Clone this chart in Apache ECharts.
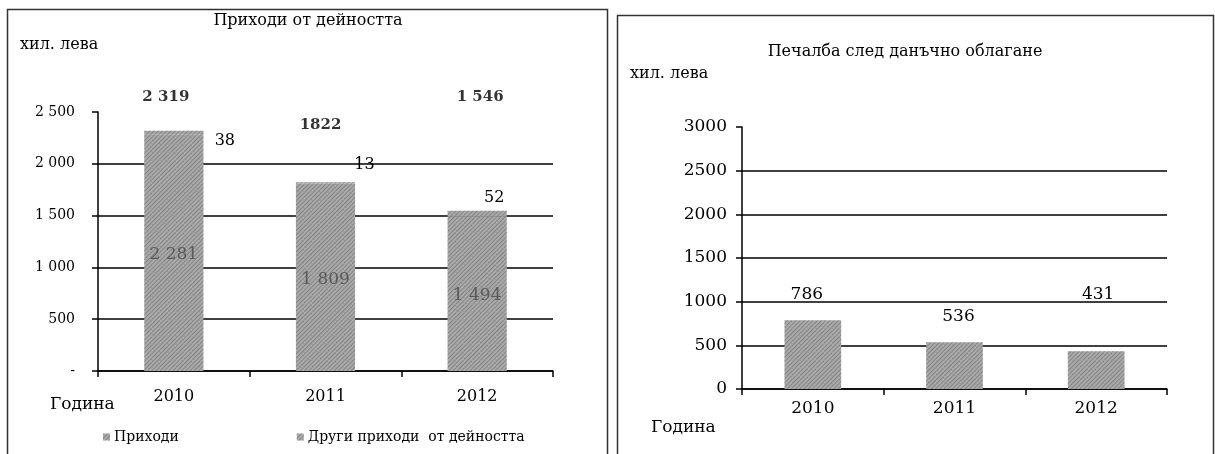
<!DOCTYPE html>
<html><head><meta charset="utf-8">
<script src="https://cdn.jsdelivr.net/npm/echarts@6/dist/echarts.min.js"></script>
<style>html,body{margin:0;padding:0;background:#fff}#c{width:1215px;height:454px}</style>
</head><body><div id="c"></div>
<script>
// ---- data ----
const years = ['2010', '2011', '2012'];
const revenue = [2281, 1809, 1494];
const otherRevenue = [38, 13, 52];
const totalRevenue = [2319, 1822, 1546];
const totalRevenueText = ['2 319', '1822', '1 546'];
const profit = [786, 536, 431];
const leftTickLabels = ['-', '500', '1 000', '1 500', '2 000', '2 500'];
const rightTickLabels = ['0', '500', '1000', '1500', '2000', '2500', '3000'];
const seriesNames = ['Приходи', 'Други приходи  от дейността'];

// ---- styling helpers ----
const SERIF = '"DejaVu Serif","Liberation Serif",serif';
const barColor = '#a9a9a9';
const decal = {
  symbol: 'rect', symbolSize: 1, color: 'rgba(90,90,90,0.45)',
  dashArrayX: [1, 0], dashArrayY: [1, 2], rotation: -Math.PI / 4
};
const fmtThousands = v => String(v).replace(/\B(?=(\d{3})+(?!\d))/g, ' ');

// label offsets (style, not data)
const otherLabelOffsets = [[51, 8], [39, -18], [17, -16]];
const totalLabelOffsets = [[-8, -34], [-5, -57], [3, -114]];
const profitLabelOffsets = [[-6, -12], [4, -12], [2, -43]];

const chart = echarts.init(document.getElementById('c'), null, { renderer: 'canvas' });

const option = {
  animation: false,
  backgroundColor: '#fff',
  textStyle: { fontFamily: SERIF },
  grid: [
    { left: 98, right: 1215 - 553, top: 112, bottom: 454 - 371 },
    { left: 742, right: 1215 - 1167, top: 127, bottom: 454 - 389 }
  ],
  legend: {
    data: seriesNames,
    left: 103, top: 430, padding: 0,
    itemWidth: 7, itemHeight: 7, itemGap: 118, icon: 'rect',
    textStyle: { fontFamily: SERIF, fontSize: 14, color: '#000', padding: [0, 0, 0, -1] }
  },
  xAxis: [
    {
      type: 'category', gridIndex: 0, data: years,
      axisLine: { lineStyle: { color: '#000', width: 1.5 } },
      axisTick: { show: true, alignWithLabel: false, length: 6, lineStyle: { color: '#000', width: 1.5 } },
      axisLabel: { color: '#000', fontSize: 16, fontFamily: SERIF, margin: 18 }
    },
    {
      type: 'category', gridIndex: 1, data: years,
      axisLine: { lineStyle: { color: '#000', width: 1.5 } },
      axisTick: { show: true, alignWithLabel: false, length: 6, lineStyle: { color: '#000', width: 1.5 } },
      axisLabel: { color: '#000', fontSize: 17, fontFamily: SERIF, margin: 11 }
    }
  ],
  yAxis: [
    {
      type: 'value', gridIndex: 0, min: 0, max: 2500, interval: 500,
      axisLine: { show: true, lineStyle: { color: '#000', width: 1.5 } },
      axisTick: { show: true, length: 6, lineStyle: { color: '#000', width: 1.5 } },
      splitLine: { show: true, showMaxLine: false, lineStyle: { color: '#000', width: 1.5 } },
      axisLabel: { color: '#000', fontSize: 14, fontFamily: SERIF, margin: 23,
        formatter: v => leftTickLabels[Math.round(v / 500)] }
    },
    {
      type: 'value', gridIndex: 1, min: 0, max: 3000, interval: 500,
      axisLine: { show: true, lineStyle: { color: '#000', width: 1.5 } },
      axisTick: { show: true, length: 6, lineStyle: { color: '#000', width: 1.5 } },
      splitLine: { show: true, showMaxLine: false, lineStyle: { color: '#000', width: 1.5 } },
      axisLabel: { color: '#000', fontSize: 17, fontFamily: SERIF, margin: 15,
        formatter: v => rightTickLabels[Math.round(v / 500)] }
    }
  ],
  series: [
    {
      name: seriesNames[0], type: 'bar', stack: 'rev', xAxisIndex: 0, yAxisIndex: 0,
      barWidth: '39%',
      itemStyle: { color: barColor, decal: decal },
      label: { show: true, position: 'inside', offset: [0, 2], fontSize: 17, fontFamily: SERIF,
        color: '#5a5a5a', formatter: p => fmtThousands(p.value) },
      data: revenue
    },
    {
      name: seriesNames[1], type: 'bar', stack: 'rev', xAxisIndex: 0, yAxisIndex: 0,
      barWidth: '39%',
      itemStyle: { color: barColor, decal: decal },
      data: otherRevenue.map((v, i) => ({
        value: v,
        label: { show: true, position: 'inside', offset: otherLabelOffsets[i], fontSize: 16,
          fontFamily: SERIF, color: '#000' }
      }))
    },
    {
      name: 'total', type: 'scatter', xAxisIndex: 0, yAxisIndex: 0,
      symbolSize: 0, silent: true,
      data: totalRevenue.map((v, i) => ({
        value: v,
        label: { show: true, position: 'inside', offset: totalLabelOffsets[i],
          formatter: totalRevenueText[i], fontSize: 15, fontWeight: 'bold',
          fontFamily: SERIF, color: '#000' }
      }))
    },
    {
      name: 'profit', type: 'bar', xAxisIndex: 1, yAxisIndex: 1,
      barWidth: '40%',
      itemStyle: { color: barColor, decal: decal },
      data: profit.map((v, i) => ({
        value: v,
        label: { show: true, position: 'top', offset: profitLabelOffsets[i], fontSize: 17,
          fontFamily: SERIF, color: '#000' }
      }))
    }
  ],
  graphic: [
    { type: 'rect', shape: { x: 7.5, y: 9.5, width: 600, height: 470 },
      style: { fill: 'none', stroke: '#333', lineWidth: 1.5 }, silent: true },
    { type: 'rect', shape: { x: 617.5, y: 15.5, width: 596, height: 470 },
      style: { fill: 'none', stroke: '#333', lineWidth: 1.5 }, silent: true },
    { type: 'text', x: 308, y: 21, style: { text: 'Приходи от дейността', font: '16px ' + SERIF,
      fill: '#000', align: 'center', verticalAlign: 'middle' } },
    { type: 'text', x: 20, y: 45, style: { text: 'хил. лева', font: '16px ' + SERIF,
      fill: '#000', align: 'left', verticalAlign: 'middle' } },
    { type: 'text', x: 50, y: 405, style: { text: 'Година', font: '17px ' + SERIF,
      fill: '#000', align: 'left', verticalAlign: 'middle' } },
    { type: 'text', x: 905, y: 52, style: { text: 'Печалба след данъчно облагане', font: '16px ' + SERIF,
      fill: '#000', align: 'center', verticalAlign: 'middle' } },
    { type: 'text', x: 630, y: 74, style: { text: 'хил. лева', font: '16px ' + SERIF,
      fill: '#000', align: 'left', verticalAlign: 'middle' } },
    { type: 'text', x: 651, y: 428, style: { text: 'Година', font: '17px ' + SERIF,
      fill: '#000', align: 'left', verticalAlign: 'middle' } }
  ]
};
chart.setOption(option);
</script>
</body></html>
